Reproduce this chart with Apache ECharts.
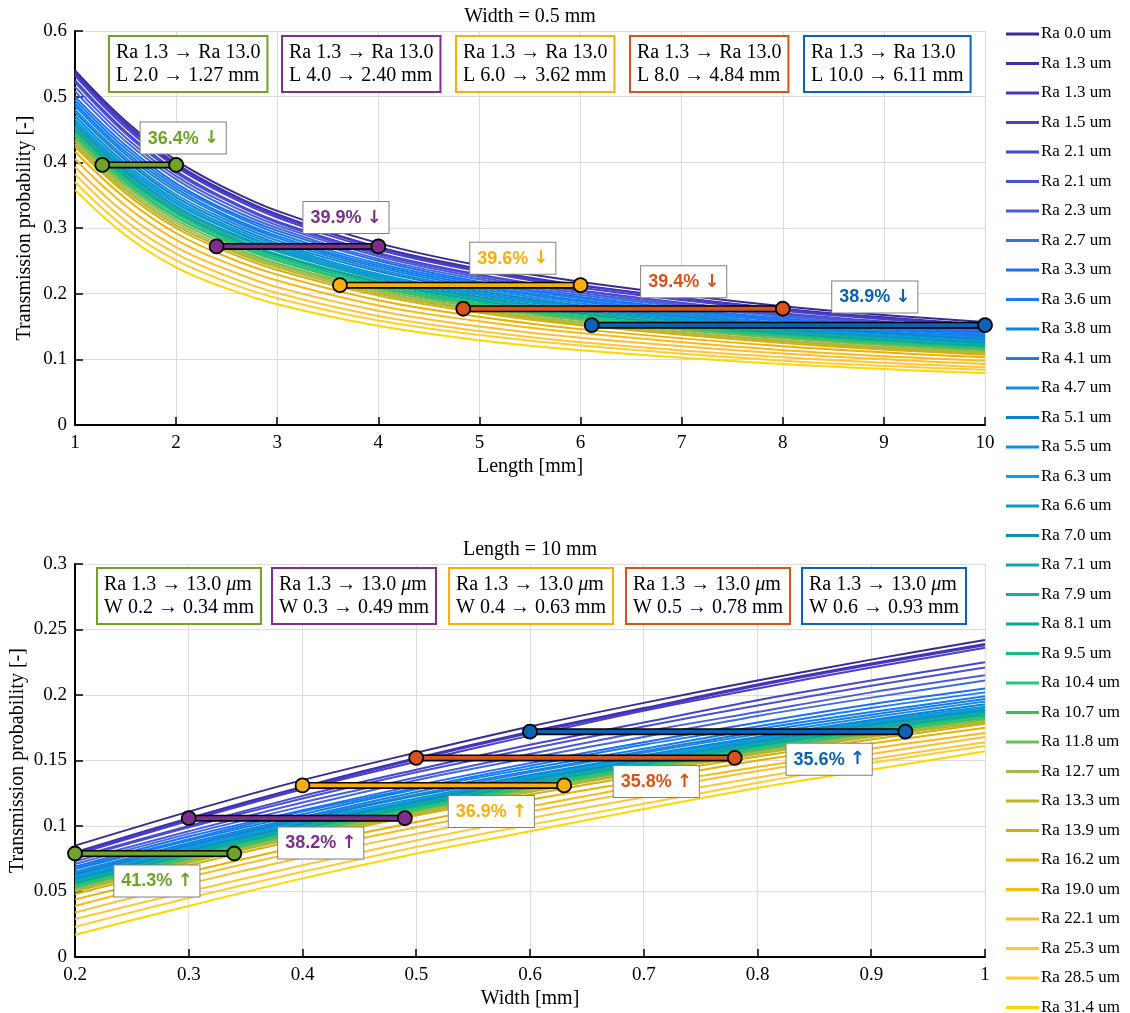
<!DOCTYPE html>
<html>
<head>
<meta charset="utf-8">
<script src="https://cdn.jsdelivr.net/npm/echarts@6/dist/echarts.min.js"></script>
<style>html,body{margin:0;padding:0;background:#fff}#c{width:1130px;height:1013px}</style>
</head>
<body>
<div id="c"></div>
<script>
// ---------- data ----------
const raLabels = ['Ra 0.0 um','Ra 1.3 um','Ra 1.3 um','Ra 1.5 um','Ra 2.1 um','Ra 2.1 um','Ra 2.3 um','Ra 2.7 um','Ra 3.3 um','Ra 3.6 um','Ra 3.8 um','Ra 4.1 um','Ra 4.7 um','Ra 5.1 um','Ra 5.5 um','Ra 6.3 um','Ra 6.6 um','Ra 7.0 um','Ra 7.1 um','Ra 7.9 um','Ra 8.1 um','Ra 9.5 um','Ra 10.4 um','Ra 10.7 um','Ra 11.8 um','Ra 12.7 um','Ra 13.3 um','Ra 13.9 um','Ra 16.2 um','Ra 19.0 um','Ra 22.1 um','Ra 25.3 um','Ra 28.5 um','Ra 31.4 um'];

const lengthX = [1, 1.5, 2, 2.5, 3, 4, 5, 6, 8, 10];
const lengthCurves = [
[0.540,0.463,0.403,0.360,0.326,0.277,0.243,0.218,0.181,0.157],
[0.537,0.459,0.398,0.355,0.321,0.271,0.238,0.213,0.177,0.153],
[0.535,0.457,0.396,0.353,0.319,0.270,0.236,0.212,0.176,0.152],
[0.532,0.453,0.393,0.350,0.316,0.267,0.234,0.209,0.174,0.150],
[0.525,0.447,0.387,0.344,0.310,0.262,0.229,0.205,0.170,0.147],
[0.522,0.444,0.384,0.342,0.308,0.260,0.228,0.204,0.169,0.146],
[0.515,0.438,0.379,0.337,0.304,0.257,0.225,0.201,0.167,0.144],
[0.508,0.432,0.374,0.332,0.300,0.253,0.222,0.198,0.165,0.142],
[0.500,0.426,0.368,0.327,0.296,0.250,0.218,0.195,0.162,0.140],
[0.495,0.421,0.364,0.324,0.292,0.246,0.216,0.193,0.160,0.138],
[0.490,0.416,0.360,0.319,0.288,0.243,0.213,0.190,0.158,0.136],
[0.486,0.412,0.356,0.316,0.285,0.240,0.210,0.188,0.155,0.134],
[0.480,0.407,0.351,0.312,0.281,0.237,0.207,0.185,0.153,0.132],
[0.476,0.403,0.347,0.308,0.277,0.234,0.204,0.182,0.151,0.130],
[0.471,0.398,0.343,0.304,0.274,0.230,0.201,0.180,0.149,0.128],
[0.466,0.394,0.340,0.301,0.271,0.228,0.199,0.178,0.147,0.127],
[0.462,0.391,0.337,0.299,0.269,0.226,0.198,0.177,0.146,0.126],
[0.458,0.387,0.333,0.295,0.266,0.223,0.195,0.174,0.144,0.124],
[0.455,0.384,0.331,0.293,0.264,0.222,0.193,0.173,0.143,0.123],
[0.452,0.381,0.328,0.290,0.260,0.219,0.191,0.170,0.141,0.121],
[0.449,0.378,0.325,0.287,0.258,0.217,0.189,0.169,0.139,0.120],
[0.446,0.375,0.322,0.284,0.255,0.214,0.186,0.166,0.137,0.118],
[0.443,0.372,0.318,0.281,0.252,0.211,0.184,0.164,0.135,0.116],
[0.440,0.369,0.316,0.279,0.250,0.209,0.182,0.162,0.134,0.115],
[0.436,0.365,0.312,0.275,0.246,0.206,0.179,0.160,0.132,0.113],
[0.432,0.361,0.308,0.271,0.243,0.203,0.176,0.157,0.129,0.111],
[0.428,0.357,0.304,0.268,0.240,0.200,0.174,0.154,0.127,0.109],
[0.424,0.353,0.300,0.264,0.236,0.197,0.171,0.152,0.125,0.107],
[0.416,0.345,0.292,0.256,0.229,0.190,0.165,0.146,0.120,0.103],
[0.405,0.334,0.282,0.247,0.220,0.182,0.158,0.140,0.114,0.098],
[0.393,0.322,0.271,0.237,0.210,0.174,0.150,0.133,0.109,0.093],
[0.382,0.311,0.261,0.227,0.201,0.166,0.143,0.126,0.103,0.088],
[0.370,0.300,0.251,0.218,0.193,0.159,0.137,0.121,0.098,0.084],
[0.358,0.289,0.240,0.208,0.184,0.151,0.129,0.114,0.093,0.079]
];

const widthX = [0.2, 0.3, 0.4, 0.5, 0.6, 0.7, 0.8, 0.9, 1.0];
const widthCurves = [
[0.085,0.111,0.135,0.156,0.176,0.194,0.211,0.227,0.242],
[0.080,0.106,0.130,0.152,0.172,0.190,0.208,0.224,0.239],
[0.079,0.105,0.129,0.151,0.171,0.189,0.207,0.223,0.238],
[0.078,0.104,0.128,0.149,0.169,0.188,0.205,0.221,0.236],
[0.076,0.100,0.123,0.143,0.162,0.179,0.196,0.211,0.225],
[0.075,0.099,0.121,0.141,0.159,0.176,0.192,0.207,0.221],
[0.073,0.096,0.118,0.137,0.155,0.172,0.187,0.202,0.215],
[0.071,0.094,0.115,0.135,0.152,0.168,0.184,0.198,0.211],
[0.069,0.092,0.112,0.131,0.148,0.164,0.179,0.193,0.205],
[0.068,0.090,0.111,0.129,0.146,0.162,0.176,0.190,0.202],
[0.067,0.089,0.109,0.128,0.144,0.159,0.174,0.187,0.199],
[0.065,0.087,0.107,0.126,0.142,0.157,0.172,0.185,0.197],
[0.064,0.086,0.106,0.124,0.141,0.156,0.170,0.183,0.195],
[0.063,0.085,0.105,0.123,0.139,0.154,0.168,0.181,0.193],
[0.062,0.084,0.104,0.121,0.138,0.153,0.167,0.180,0.191],
[0.061,0.083,0.103,0.120,0.137,0.152,0.166,0.179,0.190],
[0.060,0.082,0.102,0.119,0.136,0.151,0.165,0.178,0.189],
[0.059,0.081,0.101,0.118,0.135,0.150,0.164,0.177,0.188],
[0.058,0.080,0.100,0.117,0.134,0.149,0.163,0.176,0.187],
[0.057,0.079,0.099,0.116,0.133,0.148,0.162,0.175,0.186],
[0.056,0.078,0.098,0.115,0.132,0.147,0.161,0.174,0.185],
[0.055,0.077,0.097,0.114,0.131,0.146,0.160,0.173,0.184],
[0.054,0.076,0.096,0.113,0.130,0.145,0.159,0.172,0.183],
[0.053,0.075,0.095,0.112,0.129,0.144,0.158,0.171,0.182],
[0.052,0.074,0.094,0.111,0.128,0.143,0.157,0.170,0.181],
[0.051,0.073,0.093,0.110,0.127,0.142,0.156,0.169,0.180],
[0.050,0.072,0.092,0.109,0.126,0.141,0.155,0.168,0.179],
[0.048,0.070,0.090,0.108,0.124,0.139,0.153,0.166,0.178],
[0.044,0.065,0.085,0.103,0.120,0.135,0.150,0.163,0.175],
[0.039,0.061,0.081,0.099,0.115,0.131,0.145,0.159,0.171],
[0.034,0.056,0.076,0.094,0.111,0.127,0.142,0.155,0.168],
[0.029,0.050,0.070,0.089,0.106,0.122,0.137,0.151,0.164],
[0.023,0.045,0.065,0.084,0.101,0.117,0.133,0.148,0.161],
[0.017,0.039,0.060,0.079,0.096,0.113,0.129,0.143,0.157]
];

// reduction segments (Ra 1.3 -> Ra 13.0)
const lenSegY    = [0.396, 0.272, 0.213, 0.177, 0.152];
const lenSegNew  = [1.27, 2.40, 3.62, 4.84, 6.11];
const lenSegOld  = [2.0, 4.0, 6.0, 8.0, 10.0];
const lenPct     = ['36.4%', '39.9%', '39.6%', '39.4%', '38.9%'];
const widSegY    = [0.079, 0.106, 0.131, 0.152, 0.172];
const widSegOld  = [0.2, 0.3, 0.4, 0.5, 0.6];
const widSegNew  = [0.34, 0.49, 0.63, 0.78, 0.93];
const widPct     = ['41.3%', '38.2%', '36.9%', '35.8%', '35.6%'];

// ---------- layout / style ----------
const lineColors = ['#3a2a98','#3b2fae','#4437c4','#4840cd','#4646d0','#4a50d4','#4b5bd9','#3e6be4','#1c6ef5','#1a7bf6','#0b82f0','#1a7ee0','#1f88e0','#0a84cc','#0a91dc','#0aa0e6','#0a98cf','#0a91b1','#12a2b6','#1aa9a6','#0aa890','#12bc86','#22c97f','#44b862','#70bb58','#9cbc4e','#b8b624','#d2b012','#eeb000','#fcb814','#fdbd30','#ffc534','#ffcd30','#ffd600'];
const annColors = ['#6fa329','#7e2f8e','#f9ae0c','#d95319','#0a63b5'];
const lenPctPos = [[2.07,0.437],[3.68,0.316],[5.33,0.254],[7.02,0.218],[8.91,0.195]];
const widPctPos = [[0.272,0.058],[0.416,0.087],[0.566,0.111],[0.711,0.134],[0.863,0.151]];
const topBoxX = [110, 283, 457, 631, 805];
const botBoxX = [98, 273, 450, 627, 803];
const SERIF = 'Liberation Serif';

const series = [];
lengthCurves.forEach((arr, i) => {
  series.push({
    type: 'line', name: i + '|' + raLabels[i], xAxisIndex: 0, yAxisIndex: 0,
    data: lengthX.map((x, j) => [x, arr[j]]),
    smooth: 0.4, symbol: 'none', silent: true,
    lineStyle: { width: 2, color: lineColors[i] }, itemStyle: { color: lineColors[i] }, z: 2
  });
});
widthCurves.forEach((arr, i) => {
  series.push({
    type: 'line', name: i + '|' + raLabels[i], xAxisIndex: 1, yAxisIndex: 1,
    data: widthX.map((x, j) => [x, arr[j]]),
    smooth: 0.3, symbol: 'none', silent: true,
    lineStyle: { width: 2, color: lineColors[i] }, itemStyle: { color: lineColors[i] }, z: 2
  });
});
function addSeg(ax, x0, x1, y, c) {
  series.push({
    type: 'line', xAxisIndex: ax, yAxisIndex: ax, data: [[x0, y], [x1, y]],
    symbol: 'none', silent: true, lineStyle: { color: '#000', width: 7 }, z: 5
  });
  series.push({
    type: 'line', xAxisIndex: ax, yAxisIndex: ax, data: [[x0, y], [x1, y]],
    symbol: 'circle', symbolSize: 14, showSymbol: true, silent: true,
    lineStyle: { color: c, width: 3.8 },
    itemStyle: { color: c, borderColor: '#000', borderWidth: 1.8 }, z: 6
  });
}
for (let i = 0; i < 5; i++) {
  addSeg(0, lenSegNew[i], lenSegOld[i], lenSegY[i], annColors[i]);
  addSeg(1, widSegOld[i], widSegNew[i], widSegY[i], annColors[i]);
}

const baseGraphic = [
  { id: 't0', type: 'text', x: 530, y: 17, style: { text: 'Width = 0.5 mm', fontSize: 20, fontFamily: SERIF, fill: '#000', align: 'center', verticalAlign: 'middle' } },
  { id: 't1', type: 'text', x: 530, y: 550, style: { text: 'Length = 10 mm', fontSize: 20, fontFamily: SERIF, fill: '#000', align: 'center', verticalAlign: 'middle' } }
];
for (let i = 0; i < 5; i++) {
  baseGraphic.push({
    id: 'bt' + i, type: 'text', x: topBoxX[i], y: 37, z: 20,
    style: {
      text: 'Ra 1.3 \u2192 Ra 13.0\nL ' + lenSegOld[i].toFixed(1) + ' \u2192 ' + lenSegNew[i].toFixed(2) + ' mm',
      fontSize: 20, fontFamily: SERIF, fill: '#000', lineHeight: 23,
      backgroundColor: '#fff', borderColor: annColors[i], borderWidth: 2, padding: [4, 6, 4, 6]
    }
  });
  baseGraphic.push({
    id: 'bb' + i, type: 'text', x: botBoxX[i], y: 569, z: 20,
    style: {
      text: '{n|Ra 1.3 \u2192 13.0 }{i|\u03bc}{n|m}\n{n|W ' + widSegOld[i].toFixed(1) + ' \u2192 ' + widSegNew[i].toFixed(2) + ' mm}',
      rich: {
        n: { fontSize: 20, fontFamily: SERIF, fill: '#000', lineHeight: 23 },
        i: { fontSize: 20, fontFamily: SERIF, fontStyle: 'italic', fill: '#000', lineHeight: 23 }
      },
      backgroundColor: '#fff', borderColor: annColors[i], borderWidth: 2, padding: [4, 6, 4, 6]
    }
  });
}

function xAxis(gi, min, max, interval, name) {
  return {
    type: 'value', gridIndex: gi, min, max, interval, name,
    nameLocation: 'middle', nameGap: 32,
    nameTextStyle: { fontFamily: SERIF, fontSize: 20, color: '#000' },
    axisLine: { show: true, onZero: false, lineStyle: { color: '#000', width: 2 } },
    axisTick: { show: true, inside: true, length: 8, lineStyle: { color: '#000', width: 1.5 } },
    axisLabel: { fontFamily: SERIF, fontSize: 19, color: '#000', margin: 9 },
    splitLine: { show: true, lineStyle: { color: '#dcdcdc', width: 1.2 } }
  };
}
function yAxis(gi, max, interval, gap) {
  return {
    type: 'value', gridIndex: gi, min: 0, max, interval,
    name: 'Transmission probability [-]', nameLocation: 'middle', nameGap: gap, nameMoveOverlap: false,
    nameTextStyle: { fontFamily: SERIF, fontSize: 20, color: '#000' },
    axisLine: { show: true, onZero: false, lineStyle: { color: '#000', width: 2 } },
    axisTick: { show: true, inside: true, length: 8, lineStyle: { color: '#000', width: 1.5 } },
    axisLabel: { fontFamily: SERIF, fontSize: 19, color: '#000', margin: 8 },
    splitLine: { show: true, lineStyle: { color: '#dcdcdc', width: 1.2 } }
  };
}

const chart = echarts.init(document.getElementById('c'), null, { renderer: 'canvas' });
chart.setOption({
  animation: false,
  backgroundColor: '#fff',
  grid: [
    { left: 75, top: 31, width: 910, height: 394, containLabel: false, outerBoundsMode: 'none' },
    { left: 75, top: 564, width: 910, height: 393, containLabel: false, outerBoundsMode: 'none' }
  ],
  xAxis: [xAxis(0, 1, 10, 1, 'Length [mm]'), xAxis(1, 0.2, 1, 0.1, 'Width [mm]')],
  yAxis: [yAxis(0, 0.6, 0.1, 40), yAxis(1, 0.3, 0.05, 47)],
  legend: {
    type: 'plain', orient: 'vertical', left: 1001, top: 19, height: 1000,
    itemWidth: 33, itemHeight: 3, itemGap: 9.5,
    icon: 'rect', selectedMode: false,
    data: raLabels.map((r, i) => i + '|' + r),
    formatter: n => n.split('|')[1],
    textStyle: { fontFamily: SERIF, fontSize: 17, color: '#000', lineHeight: 20, padding: [0, 0, 0, -3] }
  },
  graphic: baseGraphic,
  series
});

// percentage labels, positioned through the chart's own scales
const pctGraphic = [];
function addPct(gi, pos, pct, arrow) {
  pos.forEach((p, i) => {
    const px = chart.convertToPixel({ gridIndex: gi }, p);
    pctGraphic.push({
      id: 'p' + gi + '_' + i, type: 'text', x: px[0], y: px[1], z: 30,
      style: {
        text: '{p|' + pct[i] + ' }{a|' + arrow + '}',
        rich: {
          p: { fontFamily: 'Liberation Sans', fontWeight: 'bold', fontSize: 18, fill: annColors[i], lineHeight: 20 },
          a: { fontFamily: 'DejaVu Sans', fontWeight: 'bold', fontSize: 18, fill: annColors[i], lineHeight: 20 }
        },
        align: 'center', verticalAlign: 'middle',
        backgroundColor: '#fff', borderColor: '#808080', borderWidth: 1, padding: [6, 7, 5, 7]
      }
    });
  });
}
addPct(0, lenPctPos, lenPct, '\u2193');
addPct(1, widPctPos, widPct, '\u2191');
chart.setOption({ graphic: baseGraphic.concat(pctGraphic) });
</script>
</body>
</html>
